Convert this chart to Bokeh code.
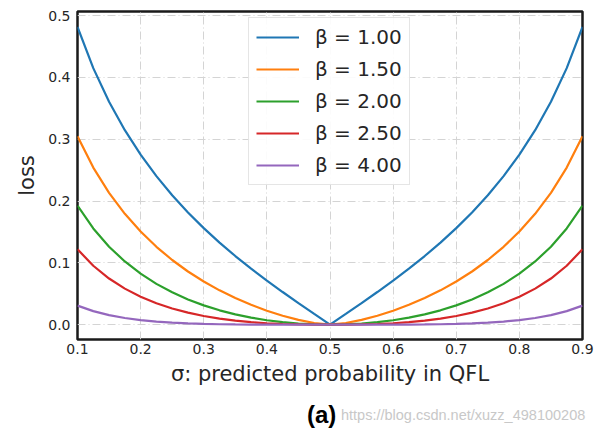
from bokeh.plotting import figure
from bokeh.models import Range1d, Legend, LegendItem, FixedTicker, PrintfTickFormatter, Div
from bokeh.layouts import column
from bokeh.embed import file_html
from bokeh.resources import INLINE

sigma = [0.100, 0.125, 0.150, 0.175, 0.200, 0.225, 0.250, 0.275, 0.300, 0.325, 0.350,
         0.375, 0.400, 0.425, 0.450, 0.475, 0.500, 0.525, 0.550, 0.575, 0.600, 0.625,
         0.650, 0.675, 0.700, 0.725, 0.750, 0.775, 0.800, 0.825, 0.850, 0.875, 0.900]

loss_b100 = [0.4816, 0.4149, 0.3604, 0.3145, 0.2749, 0.2402, 0.2093, 0.1814, 0.1561, 0.1327, 0.1110,
             0.0907, 0.0714, 0.0528, 0.0349, 0.0174, 0.0, 0.0174, 0.0349, 0.0528, 0.0714, 0.0907,
             0.1110, 0.1327, 0.1561, 0.1814, 0.2093, 0.2402, 0.2749, 0.3145, 0.3604, 0.4149, 0.4816]
loss_b150 = [0.3046, 0.2541, 0.2132, 0.1793, 0.1506, 0.1259, 0.1046, 0.0860, 0.0698, 0.0555, 0.0430,
             0.0321, 0.0226, 0.0145, 0.0078, 0.0027, 0.0, 0.0027, 0.0078, 0.0145, 0.0226, 0.0321,
             0.0430, 0.0555, 0.0698, 0.0860, 0.1046, 0.1259, 0.1506, 0.1793, 0.2132, 0.2541, 0.3046]
loss_b200 = [0.1926, 0.1556, 0.1261, 0.1022, 0.0825, 0.0660, 0.0523, 0.0408, 0.0312, 0.0232, 0.0167,
             0.0113, 0.0071, 0.0040, 0.0017, 0.0004, 0.0, 0.0004, 0.0017, 0.0040, 0.0071, 0.0113,
             0.0167, 0.0232, 0.0312, 0.0408, 0.0523, 0.0660, 0.0825, 0.1022, 0.1261, 0.1556, 0.1926]
loss_b250 = [0.1219, 0.0953, 0.0746, 0.0583, 0.0452, 0.0347, 0.0262, 0.0194, 0.0140, 0.0097, 0.0064,
             0.0040, 0.0023, 0.0011, 0.0004, 0.0001, 0.0, 0.0001, 0.0004, 0.0011, 0.0023, 0.0040,
             0.0064, 0.0097, 0.0140, 0.0194, 0.0262, 0.0347, 0.0452, 0.0583, 0.0746, 0.0953, 0.1219]
loss_b400 = [0.0308, 0.0219, 0.0155, 0.0108, 0.0074, 0.0050, 0.0033, 0.0021, 0.0012, 0.0007, 0.0004,
             0.0002, 0.0001, 0.0000, 0.0000, 0.0000, 0.0, 0.0000, 0.0000, 0.0000, 0.0001, 0.0002,
             0.0004, 0.0007, 0.0012, 0.0021, 0.0033, 0.0050, 0.0074, 0.0108, 0.0155, 0.0219, 0.0308]

labels = ["\u03b2 = 1.00", "\u03b2 = 1.50", "\u03b2 = 2.00", "\u03b2 = 2.50", "\u03b2 = 4.00"]
colors = ["#1f77b4", "#ff7f0e", "#2ca02c", "#d62728", "#9467bd"]
series = [loss_b100, loss_b150, loss_b200, loss_b250, loss_b400]

x_ticks = [0.1, 0.2, 0.3, 0.4, 0.5, 0.6, 0.7, 0.8, 0.9]
y_ticks = [0.0, 0.1, 0.2, 0.3, 0.4, 0.5]

caption = "(a)"
watermark = "https://blog.csdn.net/xuzz_498100208"

FONT = "DejaVu Sans"
TXT = "#262626"

p = figure(width=597, height=390, output_backend="svg", toolbar_location=None,
           x_range=Range1d(0.1, 0.9), y_range=Range1d(-0.024, 0.5065),
           min_border_left=77, min_border_right=15, min_border_top=11, min_border_bottom=51)
p.background_fill_color = "white"
p.border_fill_color = "white"
p.outline_line_color = "#1a1a1a"
p.outline_line_width = 2.5

items = []
for vals, lab, col in zip(series, labels, colors):
    r = p.line(sigma, vals, line_color=col, line_width=2.2)
    items.append(LegendItem(label=lab, renderers=[r]))

for ax in (p.xaxis[0], p.yaxis[0]):
    ax.axis_line_color = None
    ax.major_tick_line_color = None
    ax.minor_tick_line_color = None
    ax.major_tick_out = 0
    ax.major_tick_in = 0
    ax.major_label_text_font = FONT
    ax.major_label_text_font_size = "14px"
    ax.major_label_text_color = TXT
    ax.axis_label_text_font = FONT
    ax.axis_label_text_font_size = "21px"
    ax.axis_label_text_font_style = "normal"
    ax.axis_label_text_color = TXT

p.xaxis.ticker = FixedTicker(ticks=x_ticks)
p.yaxis.ticker = FixedTicker(ticks=y_ticks)
p.xaxis.formatter = PrintfTickFormatter(format="%.1f")
p.yaxis.formatter = PrintfTickFormatter(format="%.1f")
p.xaxis.major_label_standoff = 4
p.yaxis.major_label_standoff = 7
p.xaxis.axis_label = "\u03c3: predicted probability in QFL"
p.yaxis.axis_label = "loss"
p.xaxis.axis_label_standoff = 5
p.yaxis.axis_label_standoff = 6

for g in (p.xgrid[0], p.ygrid[0]):
    g.grid_line_color = "#d4d4d4"
    g.grid_line_width = 1
    g.grid_line_dash = "8 3 1 3"

legend = Legend(items=items, location=(171, 154))
legend.label_text_font = FONT
legend.label_text_font_size = "20px"
legend.label_text_color = TXT
legend.glyph_width = 43
legend.glyph_height = 20
legend.label_height = 20
legend.label_standoff = 16
legend.spacing = 8
legend.padding = 7
legend.margin = 0
legend.border_line_color = "#cccccc"
legend.border_line_width = 1
legend.background_fill_alpha = 0.9
p.add_layout(legend, "center")

html = (
    '<div style="position:relative;width:597px;height:43px;">'
    '<span style="position:absolute;left:341px;top:16px;font-family:\'Liberation Sans\';'
    'font-size:14.5px;color:#c8c8c8;white-space:nowrap;line-height:18px;">' + watermark + '</span>'
    '<span style="position:absolute;left:307px;top:11px;font-family:\'Liberation Sans\';'
    'font-size:24px;font-weight:bold;color:#000;line-height:27px;">' + caption + '</span>'
    '</div>'
)
d = Div(text=html, width=597, height=43, margin=0)

layout = column(p, d, spacing=0)
open("out.html", "w").write(file_html(layout, INLINE))
